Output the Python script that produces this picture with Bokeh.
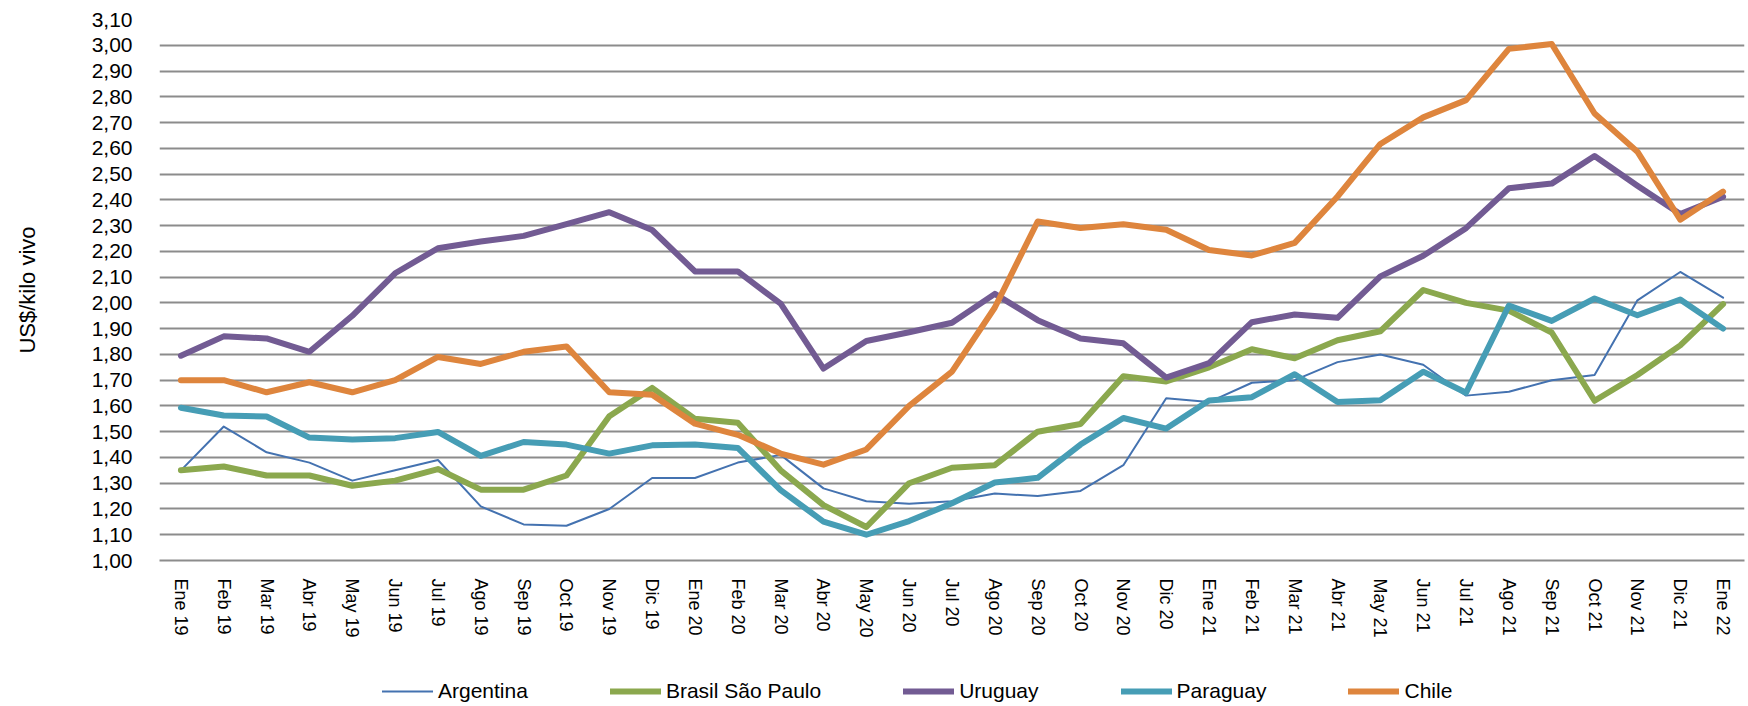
from bokeh.plotting import figure
from bokeh.layouts import column
from bokeh.models import (FactorRange, Range1d, FixedTicker, Legend, LegendItem,
                          ColumnDataSource)
from bokeh.embed import file_html
from bokeh.resources import INLINE

MONTHS = ["Ene 19", "Feb 19", "Mar 19", "Abr 19", "May 19", "Jun 19", "Jul 19", "Ago 19",
          "Sep 19", "Oct 19", "Nov 19", "Dic 19", "Ene 20", "Feb 20", "Mar 20", "Abr 20",
          "May 20", "Jun 20", "Jul 20", "Ago 20", "Sep 20", "Oct 20", "Nov 20", "Dic 20",
          "Ene 21", "Feb 21", "Mar 21", "Abr 21", "May 21", "Jun 21", "Jul 21", "Ago 21",
          "Sep 21", "Oct 21", "Nov 21", "Dic 21", "Ene 22"]

ARGENTINA = [1.35, 1.52, 1.42, 1.38, 1.31, 1.35, 1.39, 1.21, 1.14, 1.135, 1.20, 1.32,
             1.32, 1.38, 1.41, 1.28, 1.23, 1.22, 1.23, 1.26, 1.25, 1.27, 1.37, 1.63,
             1.615, 1.69, 1.70, 1.77, 1.80, 1.76, 1.64, 1.655, 1.70, 1.72, 2.01, 2.12,
             2.02]
BRASIL = [1.35, 1.365, 1.33, 1.33, 1.29, 1.31, 1.355, 1.275, 1.275, 1.33, 1.56, 1.67,
          1.55, 1.535, 1.35, 1.215, 1.13, 1.30, 1.36, 1.37, 1.50, 1.53, 1.715, 1.695,
          1.75, 1.82, 1.785, 1.855, 1.89, 2.05, 2.00, 1.97, 1.885, 1.62, 1.72, 1.835,
          1.995]
URUGUAY = [1.795, 1.87, 1.862, 1.81, 1.95, 2.115, 2.212, 2.238, 2.26, 2.306, 2.352, 2.283,
           2.122, 2.122, 1.997, 1.745, 1.852, 1.886, 1.923, 2.035, 1.933, 1.862, 1.843, 1.71,
           1.766, 1.925, 1.955, 1.942, 2.103, 2.183, 2.29, 2.445, 2.463, 2.57, 2.455, 2.345,
           2.412]
PARAGUAY = [1.593, 1.563, 1.559, 1.477, 1.47, 1.475, 1.499, 1.406, 1.46, 1.45, 1.415, 1.447,
            1.45, 1.437, 1.273, 1.151, 1.10, 1.153, 1.222, 1.303, 1.321, 1.45, 1.553, 1.512,
            1.621, 1.634, 1.723, 1.615, 1.622, 1.733, 1.651, 1.99, 1.93, 2.017, 1.952, 2.013,
            1.90]
CHILE = [1.70, 1.70, 1.653, 1.692, 1.653, 1.70, 1.79, 1.763, 1.81, 1.831, 1.653, 1.643,
         1.531, 1.488, 1.415, 1.372, 1.431, 1.60, 1.733, 1.982, 2.316, 2.291, 2.305, 2.284,
         2.205, 2.184, 2.233, 2.413, 2.617, 2.72, 2.787, 2.986, 3.005, 2.735, 2.587, 2.323,
         2.432]

SERIES_NAMES = ["Argentina", "Brasil São Paulo", "Uruguay", "Paraguay", "Chile"]

Y_TICKS = [1.0, 1.1, 1.2, 1.3, 1.4, 1.5, 1.6, 1.7, 1.8, 1.9, 2.0, 2.1, 2.2, 2.3, 2.4,
           2.5, 2.6, 2.7, 2.8, 2.9, 3.0, 3.1]
Y_TICK_LABELS = ["1,00", "1,10", "1,20", "1,30", "1,40", "1,50", "1,60", "1,70", "1,80",
                 "1,90", "2,00", "2,10", "2,20", "2,30", "2,40", "2,50", "2,60", "2,70",
                 "2,80", "2,90", "3,00", "3,10"]

COLORS = ["#4472b0", "#8ba84e", "#725b93", "#469db5", "#de853d"]
WIDTHS = [2, 6, 6, 6, 6]
FONT = "Liberation Sans"

p = figure(width=1748, height=640, x_range=FactorRange(*MONTHS, range_padding=0),
           y_range=Range1d(1.0, 3.1), output_backend="svg", toolbar_location=None,
           min_border_left=159, min_border_right=4, min_border_top=19, min_border_bottom=78)
p.outline_line_color = None
p.background_fill_color = "white"
p.border_fill_color = "white"

p.xgrid.grid_line_color = None
p.ygrid.ticker = FixedTicker(ticks=Y_TICKS)
p.ygrid.grid_line_color = "#8c8c8c"
p.ygrid.grid_line_width = 2

p.yaxis.ticker = FixedTicker(ticks=Y_TICKS)
p.yaxis.major_label_overrides = dict(zip(Y_TICKS, Y_TICK_LABELS))
p.yaxis.axis_line_color = None
p.yaxis.major_tick_line_color = None
p.yaxis.minor_tick_line_color = None
p.yaxis.major_label_standoff = 21
p.yaxis.major_label_text_font = FONT
p.yaxis.major_label_text_font_size = "21px"
p.yaxis.major_label_text_color = "#000000"
p.yaxis.axis_label = "US$/kilo vivo"
p.yaxis.axis_label_text_font = FONT
p.yaxis.axis_label_text_font_size = "22px"
p.yaxis.axis_label_text_font_style = "normal"
p.yaxis.axis_label_text_color = "#000000"
p.yaxis.axis_label_standoff = 49

p.xaxis.axis_line_color = "#8c8c8c"
p.xaxis.axis_line_width = 2
p.xaxis.major_tick_line_color = None
p.xaxis.minor_tick_line_color = None
p.xaxis.major_label_orientation = -1.5707963267948966
p.xaxis.major_label_standoff = 12
p.xaxis.major_label_text_font = FONT
p.xaxis.major_label_text_font_size = "18px"
p.xaxis.major_label_text_color = "#000000"

values = [ARGENTINA, BRASIL, URUGUAY, PARAGUAY, CHILE]
for name, vals, col, w in zip(SERIES_NAMES, values, COLORS, WIDTHS):
    src = ColumnDataSource(data=dict(x=MONTHS, y=vals))
    p.line("x", "y", source=src, line_color=col, line_width=w,
           line_join="round", line_cap="round")

# legend strip below the chart (frame is aligned with the chart's frame)
lg = figure(width=1748, height=66, x_range=Range1d(0, 1), y_range=Range1d(0, 1),
            output_backend="svg", toolbar_location=None,
            x_axis_location=None, y_axis_location=None,
            min_border_left=0, min_border_right=0, min_border_top=0, min_border_bottom=0)
lg.outline_line_color = None
lg.xgrid.grid_line_color = None
lg.ygrid.grid_line_color = None
nan = float("nan")
items = []
for name, col, w in zip(SERIES_NAMES, COLORS, WIDTHS):
    # single NaN point: nothing is drawn in the strip, only the legend swatch
    r = lg.line(x=[nan], y=[nan], line_color=col, line_width=w, line_cap="round")
    items.append(LegendItem(label=name, renderers=[r]))

legend = Legend(items=items, orientation="horizontal", location=(223, 3),
                glyph_width=51, glyph_height=20, label_height=20, label_standoff=5,
                spacing=82, padding=0, margin=0,
                border_line_color=None, background_fill_alpha=0,
                label_text_font=FONT, label_text_font_size="21px",
                label_text_color="#000000")
lg.add_layout(legend, "center")

layout = column(p, lg, spacing=0)
open("out.html", "w").write(file_html(layout, INLINE))
